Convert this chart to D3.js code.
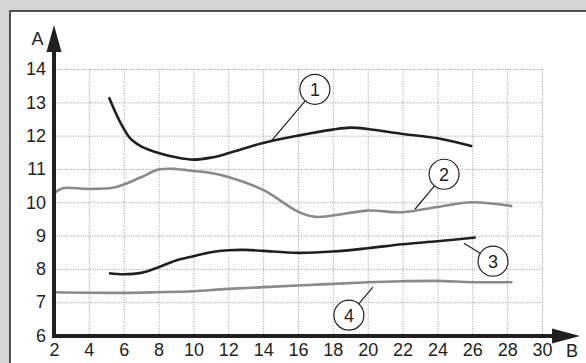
<!DOCTYPE html>
<html>
<head>
<meta charset="utf-8">
<script src="https://cdn.jsdelivr.net/npm/d3@7"></script>
<style>
  body { margin: 0; background: #d4d4d4; }
  svg { display: block; }
  text { font-family: "Liberation Sans", Arial, sans-serif; fill: #231f20; }
</style>
</head>
<body>
<svg id="chart" width="586" height="363"></svg>
<script>
// curve values
var xTicks = [2, 4, 6, 8, 10, 12, 14, 16, 18, 20, 22, 24, 26, 28, 30];
var yTicks = [6, 7, 8, 9, 10, 11, 12, 13, 14];

var curve1X = [5.15, 5.8, 6.4, 7, 8, 9, 10, 11, 12, 14, 16, 18, 19, 20, 22, 24, 26];
var curve1Y = [13.15, 12.4, 11.9, 11.68, 11.48, 11.35, 11.28, 11.34, 11.47, 11.78, 12.0, 12.18, 12.24, 12.2, 12.05, 11.92, 11.68];

var curve2X = [2, 2.5, 4, 5.5, 7, 8, 9, 10, 11, 12, 14, 16, 17, 18, 20, 22, 24, 26, 28.3];
var curve2Y = [10.27, 10.42, 10.4, 10.45, 10.75, 10.98, 11.0, 10.94, 10.88, 10.76, 10.37, 9.72, 9.56, 9.6, 9.75, 9.7, 9.86, 10.0, 9.88];

var curve3X = [5.15, 6, 7, 8, 9, 10, 11, 12, 13, 14, 16, 18, 20, 22, 24, 26.2];
var curve3Y = [7.87, 7.84, 7.88, 8.05, 8.25, 8.38, 8.5, 8.56, 8.57, 8.54, 8.48, 8.52, 8.62, 8.74, 8.83, 8.94];

var curve4X = [2, 6, 8, 10, 12, 16, 20, 22, 24, 26, 28.3];
var curve4Y = [7.3, 7.28, 7.3, 7.33, 7.4, 7.5, 7.6, 7.63, 7.64, 7.6, 7.6];

var labels = ["1", "2", "3", "4"];
var labelCX = [16.97, 24.38, 27.19, 18.92];
var labelCY = [13.39, 10.84, 8.23, 6.61];
var pointX = [14.5, 22.71, 25.52, 20.3];
var pointY = [11.86, 9.79, 8.77, 7.45];

var svg = d3.select("#chart");

svg.append("rect")
    .attr("x", 10).attr("y", 11)
    .attr("width", 586).attr("height", 363)
    .attr("fill", "#fff")
    .attr("stroke", "#231f20")
    .attr("stroke-width", 1.5);

var x = d3.scaleLinear().domain([2, 30]).range([54, 542]);
var y = d3.scaleLinear().domain([6, 14]).range([335.5, 69]);

// grid
var grid = svg.append("g")
    .attr("stroke", "#9a9a9a")
    .attr("stroke-width", 1)
    .attr("stroke-dasharray", "1,1.4");

grid.selectAll("line.v")
  .data(xTicks.slice(1))
  .enter().append("line")
    .attr("x1", function(d) { return x(d) + 0.5; })
    .attr("x2", function(d) { return x(d) + 0.5; })
    .attr("y1", y(14))
    .attr("y2", y(6));

grid.selectAll("line.h")
  .data(yTicks.slice(1))
  .enter().append("line")
    .attr("x1", x(2))
    .attr("x2", x(30))
    .attr("y1", function(d) { return y(d) + 0.5; })
    .attr("y2", function(d) { return y(d) + 0.5; });

// tick labels
svg.append("g")
    .attr("transform", "translate(0," + y(6) + ")")
    .call(d3.axisBottom(x).tickValues(xTicks).tickSize(0).tickPadding(8))
    .call(function(g) { g.select(".domain").remove(); })
    .selectAll("text")
    .attr("font-family", "'Liberation Sans', Arial, sans-serif")
    .attr("font-size", 18)
    .attr("fill", "#231f20");

svg.append("g")
    .attr("transform", "translate(" + x(2) + ",0)")
    .call(d3.axisLeft(y).tickValues(yTicks).tickSize(0).tickPadding(8))
    .call(function(g) { g.select(".domain").remove(); })
    .selectAll("text")
    .attr("font-family", "'Liberation Sans', Arial, sans-serif")
    .attr("font-size", 18)
    .attr("fill", "#231f20");

// curves
var line = d3.line()
    .x(function(d) { return x(d[0]); })
    .y(function(d) { return y(d[1]); })
    .curve(d3.curveCatmullRom.alpha(0.5));

function pairs(xs, ys) { return xs.map(function(v, i) { return [v, ys[i]]; }); }

var curves = [
  {pts: pairs(curve1X, curve1Y), color: "#231f20"},
  {pts: pairs(curve2X, curve2Y), color: "#8a8a8a"},
  {pts: pairs(curve3X, curve3Y), color: "#231f20"},
  {pts: pairs(curve4X, curve4Y), color: "#8a8a8a"}
];

svg.append("g").selectAll("path")
  .data(curves)
  .enter().append("path")
    .attr("d", function(d) { return line(d.pts); })
    .attr("fill", "none")
    .attr("stroke", function(d) { return d.color; })
    .attr("stroke-width", 2.6);

// axes with arrows
var axisColor = "#231f20";
svg.append("line")
    .attr("x1", x(2)).attr("x2", x(2))
    .attr("y1", y(6) + 2.5).attr("y2", 48)
    .attr("stroke", axisColor).attr("stroke-width", 4);
svg.append("path")
    .attr("d", "M" + x(2) + ",25L" + (x(2) - 7.5) + ",52L" + (x(2) + 7.5) + ",52Z")
    .attr("fill", axisColor);

svg.append("line")
    .attr("x1", x(2) - 2).attr("x2", 556)
    .attr("y1", y(6) + 0.5).attr("y2", y(6) + 0.5)
    .attr("stroke", axisColor).attr("stroke-width", 4);
svg.append("path")
    .attr("d", "M580," + (y(6) + 0.5) + "L552," + (y(6) - 7) + "L552," + (y(6) + 8) + "Z")
    .attr("fill", axisColor);

svg.append("text")
    .attr("x", 37.5).attr("y", 45)
    .attr("text-anchor", "middle")
    .attr("font-size", 18)
    .text("A");
svg.append("text")
    .attr("x", 572).attr("y", 357)
    .attr("text-anchor", "middle")
    .attr("font-size", 18)
    .text("B");

// numbered callouts
var r = 15;
var callout = svg.append("g").selectAll("g")
  .data(labels)
  .enter().append("g");

callout.append("line")
    .attr("x1", function(d, i) {
      var cx = x(labelCX[i]), cy = y(labelCY[i]), px = x(pointX[i]), py = y(pointY[i]);
      var len = Math.hypot(px - cx, py - cy);
      return cx + (px - cx) / len * r;
    })
    .attr("y1", function(d, i) {
      var cx = x(labelCX[i]), cy = y(labelCY[i]), px = x(pointX[i]), py = y(pointY[i]);
      var len = Math.hypot(px - cx, py - cy);
      return cy + (py - cy) / len * r;
    })
    .attr("x2", function(d, i) { return x(pointX[i]); })
    .attr("y2", function(d, i) { return y(pointY[i]); })
    .attr("stroke", "#231f20")
    .attr("stroke-width", 1.2);

callout.append("circle")
    .attr("cx", function(d, i) { return x(labelCX[i]); })
    .attr("cy", function(d, i) { return y(labelCY[i]); })
    .attr("r", r)
    .attr("fill", "#fff")
    .attr("stroke", "#231f20")
    .attr("stroke-width", 1.2);

callout.append("text")
    .attr("x", function(d, i) { return x(labelCX[i]); })
    .attr("y", function(d, i) { return y(labelCY[i]); })
    .attr("dy", "0.36em")
    .attr("text-anchor", "middle")
    .attr("font-size", 18)
    .text(function(d) { return d; });
</script>
</body>
</html>
